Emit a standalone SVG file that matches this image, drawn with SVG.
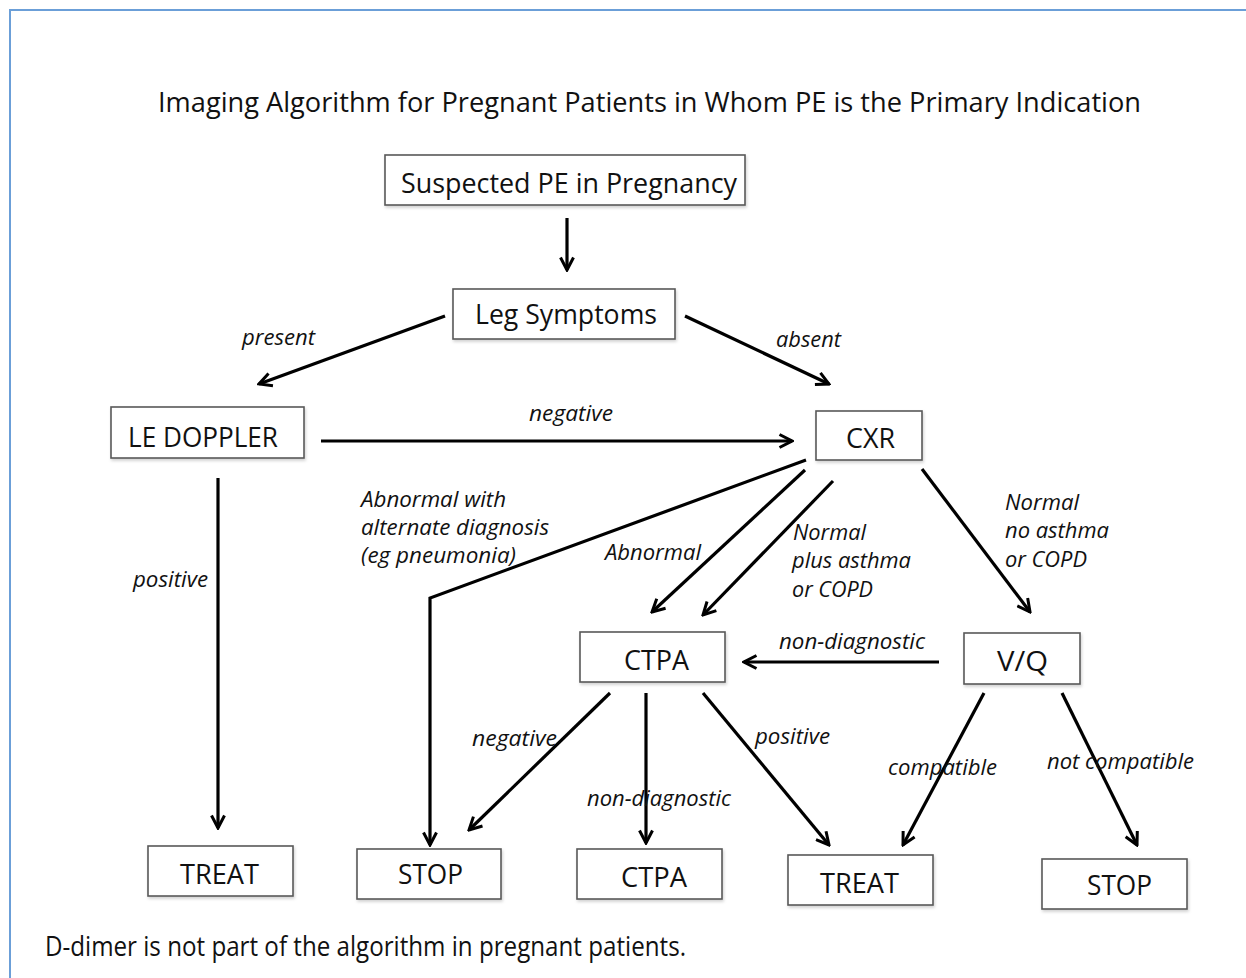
<svg xmlns="http://www.w3.org/2000/svg" width="1246" height="978" viewBox="0 0 1246 978">
<defs>
<style>
.box{fill:#fff;stroke:#595959;stroke-width:1.6}
.bt{font-family:"Open Sans","Liberation Sans",sans-serif;font-size:27px;fill:#111;text-anchor:start}
.lb{font-family:"Open Sans","Liberation Sans",sans-serif;font-size:21px;font-style:italic;fill:#111}
.ln{fill:none;stroke:#000;stroke-width:3.2;marker-end:url(#ah)}
</style>
<marker id="ah" viewBox="0 0 16 16" refX="14" refY="8" markerWidth="16" markerHeight="16" markerUnits="userSpaceOnUse" orient="auto">
<path d="M1.5,1.5 L14,8 L1.5,14.5" fill="none" stroke="#000" stroke-width="3"/>
</marker>
<filter id="sh" x="-10%" y="-10%" width="130%" height="140%"><feDropShadow dx="1" dy="2" stdDeviation="1.5" flood-color="#000" flood-opacity="0.18"/></filter>
</defs>
<rect width="1246" height="978" fill="#fff"/>
<rect x="10" y="10" width="1260" height="1000" fill="none" stroke="#6b9fd8" stroke-width="2"/>
<text id="title" x="158" y="112" class="bt" font-size="27" textLength="983" lengthAdjust="spacingAndGlyphs">Imaging Algorithm for Pregnant Patients in Whom PE is the Primary Indication</text>

<g id="connectors">
<line class="ln" x1="567" y1="218" x2="567" y2="270"/>
<line class="ln" x1="445" y1="316" x2="259" y2="384"/>
<line class="ln" x1="685" y1="316" x2="829" y2="384"/>
<line class="ln" x1="321" y1="441" x2="792" y2="441"/>
<line class="ln" x1="218" y1="478" x2="218" y2="828"/>
<polyline class="ln" points="806,460 430,598 430,845"/>
<line class="ln" x1="805" y1="470" x2="652" y2="612"/>
<line class="ln" x1="833" y1="481" x2="703" y2="615"/>
<line class="ln" x1="922" y1="469" x2="1030" y2="612"/>
<line class="ln" x1="939" y1="662" x2="744" y2="662"/>
<line class="ln" x1="610" y1="693" x2="469" y2="830"/>
<line class="ln" x1="646" y1="693" x2="646" y2="843"/>
<line class="ln" x1="703" y1="693" x2="829" y2="845"/>
<line class="ln" x1="984" y1="693" x2="903" y2="845"/>
<line class="ln" x1="1062" y1="693" x2="1137" y2="845"/>
<text class="lb" x="242" y="345" textLength="73" lengthAdjust="spacingAndGlyphs">present</text>
<text class="lb" x="776" y="347" textLength="65" lengthAdjust="spacingAndGlyphs">absent</text>
<text class="lb" x="529" y="421" textLength="84" lengthAdjust="spacingAndGlyphs">negative</text>
<text class="lb" x="133" y="587" textLength="75" lengthAdjust="spacingAndGlyphs">positive</text>
<text class="lb" x="361" y="507" textLength="145" lengthAdjust="spacingAndGlyphs">Abnormal with</text>
<text class="lb" x="361" y="535" textLength="188" lengthAdjust="spacingAndGlyphs">alternate diagnosis</text>
<text class="lb" x="361" y="563" textLength="155" lengthAdjust="spacingAndGlyphs">(eg pneumonia)</text>
<text class="lb" x="605" y="560" textLength="96" lengthAdjust="spacingAndGlyphs">Abnormal</text>
<text class="lb" x="793" y="540" textLength="73" lengthAdjust="spacingAndGlyphs">Normal</text>
<text class="lb" x="792" y="568" textLength="119" lengthAdjust="spacingAndGlyphs">plus asthma</text>
<text class="lb" x="792" y="597" textLength="81" lengthAdjust="spacingAndGlyphs">or COPD</text>
<text class="lb" x="1005" y="510" textLength="74" lengthAdjust="spacingAndGlyphs">Normal</text>
<text class="lb" x="1005" y="538" textLength="104" lengthAdjust="spacingAndGlyphs">no asthma</text>
<text class="lb" x="1005" y="567" textLength="82" lengthAdjust="spacingAndGlyphs">or COPD</text>
<text class="lb" x="779" y="649" textLength="146" lengthAdjust="spacingAndGlyphs">non-diagnostic</text>
<text class="lb" x="472" y="746" textLength="85" lengthAdjust="spacingAndGlyphs">negative</text>
<text class="lb" x="587" y="806" textLength="144" lengthAdjust="spacingAndGlyphs">non-diagnostic</text>
<text class="lb" x="755" y="744" textLength="75" lengthAdjust="spacingAndGlyphs">positive</text>
<text class="lb" x="888" y="775" textLength="109" lengthAdjust="spacingAndGlyphs">compatible</text>
<text class="lb" x="1047" y="769" textLength="147" lengthAdjust="spacingAndGlyphs">not compatible</text>
</g>

<g id="n-suspected"><rect class="box" filter="url(#sh)" x="385" y="155" width="360" height="50"/><text class="bt" x="401" y="193" textLength="336" lengthAdjust="spacingAndGlyphs">Suspected PE in Pregnancy</text></g>
<g id="n-leg"><rect class="box" filter="url(#sh)" x="453" y="289" width="222" height="50"/><text class="bt" x="475" y="324" textLength="182" lengthAdjust="spacingAndGlyphs">Leg Symptoms</text></g>
<g id="n-doppler"><rect class="box" filter="url(#sh)" x="111" y="407" width="193" height="51"/><text class="bt" x="128" y="447" textLength="150" lengthAdjust="spacingAndGlyphs">LE DOPPLER</text></g>
<g id="n-cxr"><rect class="box" filter="url(#sh)" x="816" y="411" width="106" height="49"/><text class="bt" x="846" y="448" textLength="49" lengthAdjust="spacingAndGlyphs">CXR</text></g>
<g id="n-ctpa"><rect class="box" filter="url(#sh)" x="580" y="632" width="145" height="50"/><text class="bt" x="624" y="670" textLength="65" lengthAdjust="spacingAndGlyphs">CTPA</text></g>
<g id="n-vq"><rect class="box" filter="url(#sh)" x="964" y="633" width="116" height="51"/><text class="bt" x="997" y="671" textLength="51" lengthAdjust="spacingAndGlyphs">V/Q</text></g>
<g id="n-treat1"><rect class="box" filter="url(#sh)" x="148" y="846" width="145" height="50"/><text class="bt" x="180" y="884" textLength="79" lengthAdjust="spacingAndGlyphs">TREAT</text></g>
<g id="n-stop1"><rect class="box" filter="url(#sh)" x="357" y="849" width="144" height="50"/><text class="bt" x="398" y="884" textLength="65" lengthAdjust="spacingAndGlyphs">STOP</text></g>
<g id="n-ctpa2"><rect class="box" filter="url(#sh)" x="577" y="849" width="145" height="50"/><text class="bt" x="621" y="887" textLength="66" lengthAdjust="spacingAndGlyphs">CTPA</text></g>
<g id="n-treat2"><rect class="box" filter="url(#sh)" x="788" y="855" width="145" height="50"/><text class="bt" x="820" y="893" textLength="79" lengthAdjust="spacingAndGlyphs">TREAT</text></g>
<g id="n-stop2"><rect class="box" filter="url(#sh)" x="1042" y="859" width="145" height="50"/><text class="bt" x="1087" y="895" textLength="65" lengthAdjust="spacingAndGlyphs">STOP</text></g>

<text id="footnote" class="bt" x="45" y="956" font-size="23" textLength="641" lengthAdjust="spacingAndGlyphs">D-dimer is not part of the algorithm in pregnant patients.</text>
</svg>
